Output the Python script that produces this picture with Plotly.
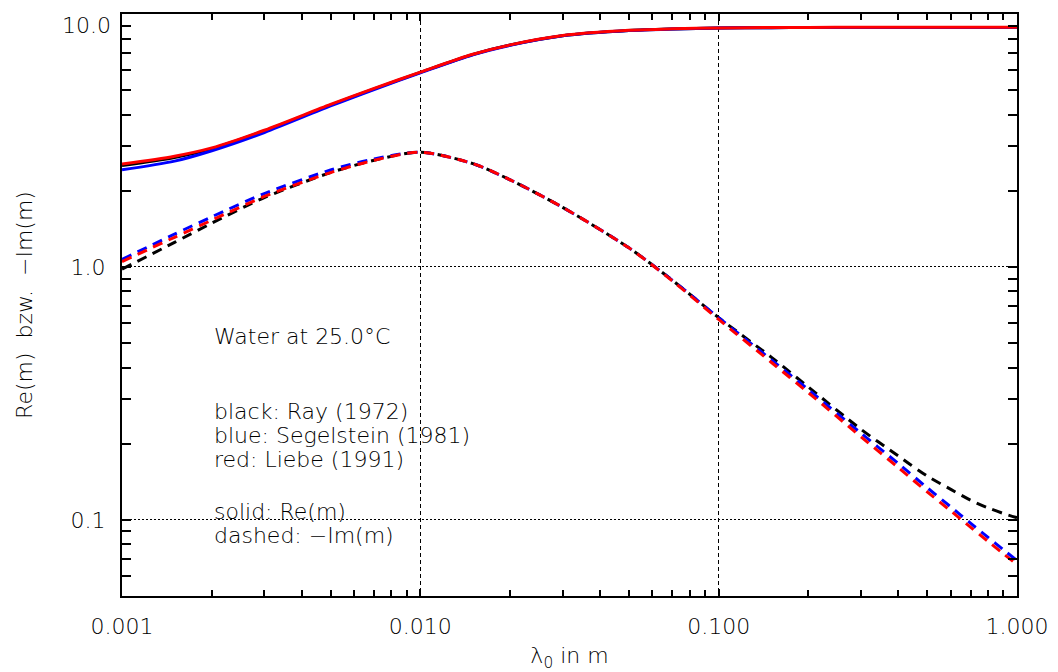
import numpy as np
import plotly.graph_objects as go

# wavelength in m
wavelength = [0.001, 0.0015, 0.002, 0.003, 0.005, 0.007, 0.01, 0.015, 0.02, 0.03,
              0.05, 0.07, 0.1, 0.15, 0.2, 0.3, 0.4, 0.5, 0.6, 0.7, 0.8, 0.9, 1.0]

# Re(m)
re_ray = [2.52, 2.71, 2.93, 3.45, 4.36, 5.06, 5.88, 6.92, 7.54, 8.21,
          8.61, 8.73, 8.80, 8.83, 8.84, 8.85, 8.85, 8.85, 8.85, 8.85, 8.85, 8.85, 8.85]
re_segelstein = [2.42, 2.62, 2.88, 3.40, 4.33, 5.03, 5.85, 6.90, 7.52, 8.20,
                 8.60, 8.72, 8.80, 8.83, 8.84, 8.85, 8.85, 8.85, 8.85, 8.85, 8.85, 8.85, 8.85]
re_liebe = [2.55, 2.74, 2.955, 3.47, 4.39, 5.08, 5.89, 6.93, 7.55, 8.22,
            8.62, 8.74, 8.81, 8.84, 8.85, 8.86, 8.86, 8.86, 8.86, 8.86, 8.86, 8.86, 8.86]

# -Im(m)
im_ray = [0.98, 1.25, 1.49, 1.88, 2.36, 2.64, 2.84, 2.56, 2.21, 1.72,
          1.19, 0.885, 0.63, 0.44, 0.335, 0.228, 0.179, 0.149, 0.132, 0.1195, 0.1115, 0.106, 0.102]
im_segelstein = [1.07, 1.348, 1.579, 1.95, 2.416, 2.673, 2.84, 2.56, 2.21, 1.72,
                 1.19, 0.885, 0.63, 0.43, 0.327, 0.220, 0.167, 0.134, 0.1125, 0.0968, 0.0852, 0.0762, 0.069]
im_liebe = [1.05, 1.31, 1.53, 1.90, 2.36, 2.64, 2.84, 2.56, 2.21, 1.72,
            1.19, 0.88, 0.62, 0.42, 0.318, 0.213, 0.161, 0.129, 0.1085, 0.0934, 0.0822, 0.0735, 0.0666]

x_tickvals = [0.001, 0.01, 0.1, 1.0]
x_ticktext = ["0.001", "0.010", "0.100", "1.000"]
x_minor = [k * 10.0 ** e for e in (-3, -2, -1) for k in range(2, 10)]
y_tickvals = [0.1, 1.0]
y_ticktext = ["0.1", "1.0"]
y_minor = [k * 10.0 ** e for e in (-2, -1, 0) for k in range(2, 10)]
y_minor = [v for v in y_minor if v >= 0.05]

notes = [("Water at 25.0°C", 0.533),
         ("black: Ray (1972)", 0.267),
         ("blue: Segelstein (1981)", 0.215),
         ("red: Liebe (1991)", 0.174),
         ("solid: Re(m)", 0.1076),
         ("dashed: −Im(m)", 0.0865)]
note_x = 0.002

FONT = "DejaVu Sans"
FS = 22
TF = dict(family=FONT, size=FS, color="black", weight=200)
fig = go.Figure()

series = [(re_ray, "black", "solid"), (re_segelstein, "#0000ff", "solid"), (re_liebe, "#ff0000", "solid"),
          (im_ray, "black", "10px,7px"), (im_segelstein, "#0000ff", "10px,7px"), (im_liebe, "#ff0000", "10px,7px")]
for ys, col, dash in series:
    fig.add_trace(go.Scatter(x=wavelength, y=ys, mode="lines",
                             line=dict(color=col, width=3, dash=dash, shape="spline", smoothing=0.8),
                             showlegend=False, hoverinfo="skip"))

for txt, yv in notes:
    fig.add_annotation(x=np.log10(note_x), y=np.log10(yv), xref="x", yref="y", text=txt,
                       showarrow=False, xanchor="left", yanchor="middle", font=TF)

# top y label (drawn slightly below the axis top as in the reference)
fig.add_annotation(x=0, y=np.log10(10.0), xref="paper", yref="y", text="10.0",
                   showarrow=False, xanchor="right", yanchor="middle", xshift=-9, yshift=-11, font=TF)

fig.update_xaxes(type="log", range=[-3, 0], tickmode="array", tickvals=x_tickvals, ticktext=x_ticktext,
                 ticks="inside", ticklen=7, tickwidth=1.5, tickcolor="black",
                 showline=True, linecolor="black", linewidth=2, mirror="allticks",
                 showgrid=True, gridcolor="black", gridwidth=1, griddash="4px,3px",
                 zeroline=False, ticklabelstandoff=10,
                 minor=dict(tickmode="array", tickvals=x_minor, ticks="inside", ticklen=6,
                            tickwidth=1.5, tickcolor="black", showgrid=False),
                 tickfont=TF,
                 title=dict(text="λ<sub>0</sub> in m", font=TF, standoff=22))
fig.update_yaxes(type="log", range=[np.log10(0.05), 1], tickmode="array", tickvals=y_tickvals, ticktext=y_ticktext,
                 ticks="inside", ticklen=9, tickwidth=1.5, tickcolor="black",
                 showline=True, linecolor="black", linewidth=2, mirror="allticks",
                 showgrid=True, gridcolor="black", gridwidth=1, griddash="2px,2px",
                 zeroline=False, ticklabelstandoff=10,
                 minor=dict(tickmode="array", tickvals=y_minor, ticks="inside", ticklen=9,
                            tickwidth=1.5, tickcolor="black", showgrid=False),
                 tickfont=TF,
                 title=dict(text="Re(m)  bzw.  −Im(m)", font=TF, standoff=32))

fig.update_layout(width=1058, height=672, margin=dict(l=122, r=41, t=14, b=76, autoexpand=False),
                  plot_bgcolor="white", paper_bgcolor="white", font=dict(family=FONT, color="black"))
fig.write_html("out.html")
